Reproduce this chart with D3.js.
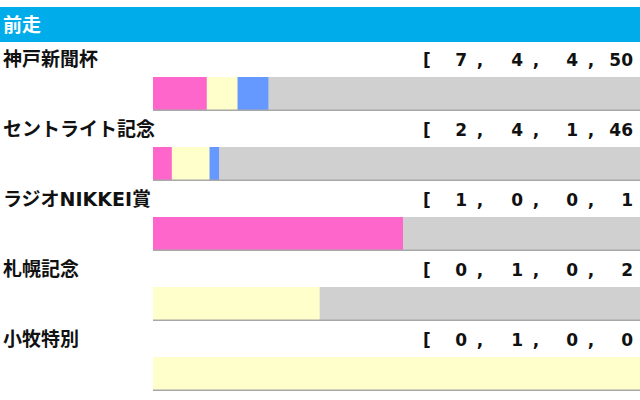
<!DOCTYPE html>
<html>
<head>
<meta charset="utf-8">
<script src="https://cdn.jsdelivr.net/npm/d3@7"></script>
<style>
  body { margin: 0; background: #fff; }
  svg { display: block; }
</style>
</head>
<body>
<script>
// previous race rows, counts of 1st / 2nd / 3rd / unplaced
var races = ["神戸新聞杯", "セントライト記念", "ラジオNIKKEI賞", "札幌記念", "小牧特別"];
var first = [7, 2, 1, 0, 0];
var second = [4, 4, 0, 1, 1];
var third = [4, 1, 0, 0, 0];
var other = [50, 46, 1, 2, 0];
var title = "前走";

var width = 640, height = 400;
var colors = ["#ff66cc", "#ffffcc", "#6699ff", "#d0d0d0"];

var svg = d3.select("body").append("svg")
    .attr("width", width)
    .attr("height", height);

// header
svg.append("rect")
  .attr("x", 0).attr("y", 7)
  .attr("width", width).attr("height", 35)
  .attr("fill", "#00acea");
svg.append("text")
  .attr("x", 3).attr("y", 32)
  .attr("fill", "#fff")
  .style("font", "bold 19px 'Noto Sans CJK JP'")
  .text(title);

var rowY = d3.scaleLinear().domain([0, races.length - 1]).range([77, 357]);
var barH = 34;

var rows = svg.selectAll("g.row")
  .data(races)
  .enter()
  .append("g")
  .attr("class", "row")
  .attr("transform", function(d, i){ return "translate(0," + rowY(i) + ")"; });

rows.append("text")
  .attr("x", 3).attr("y", -11)
  .style("font", "bold 19px 'DejaVu Sans', 'Noto Sans CJK JP'")
  .attr("fill", "#111")
  .text(function(d){ return d; });

rows.each(function(d, i){
  var g = d3.select(this);
  var vals = [first[i], second[i], third[i], other[i]];
  var total = d3.sum(vals);
  var x = d3.scaleLinear().domain([0, total]).range([153, 653]);
  var acc = 0;
  // gray background, then stacked segments
  g.append("rect")
    .attr("x", x(0)).attr("y", 0)
    .attr("width", x(total) - x(0)).attr("height", barH)
    .attr("fill", colors[3]);
  vals.slice(0, 3).forEach(function(v, k){
    g.append("rect")
      .attr("x", x(acc)).attr("y", 0)
      .attr("width", x(acc + v) - x(acc)).attr("height", barH)
      .attr("fill", colors[k]);
    acc += v;
  });
  g.append("line")
    .attr("x1", x(0)).attr("x2", x(total))
    .attr("y1", barH - 0.75).attr("y2", barH - 0.75)
    .attr("stroke", "#a8a8a8").attr("stroke-width", 1.5);

  // bracket numbers
  var tf = "bold 17px 'DejaVu Sans'";
  g.append("text")
    .attr("x", 423).attr("y", -11)
    .style("font", tf).attr("fill", "#111")
    .text("[");
  var numX = [467, 523, 578, 633];
  vals.forEach(function(v, k){
    g.append("text")
      .attr("x", numX[k]).attr("y", -11)
      .attr("text-anchor", "end")
      .style("font", tf).attr("fill", "#111")
      .text(v);
    if (k < 3) {
      g.append("text")
        .attr("x", numX[k] + 13).attr("y", -11)
        .attr("text-anchor", "middle")
        .style("font", tf).attr("fill", "#111")
        .text(",");
    }
  });
});
</script>
</body>
</html>
